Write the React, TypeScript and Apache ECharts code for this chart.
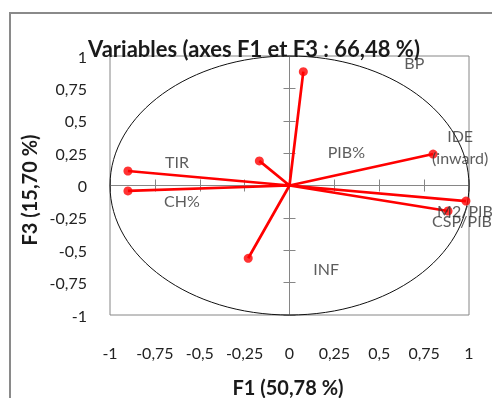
import React, { useEffect, useRef } from "react";
import * as echarts from "echarts";

const variableNames = ["BP", "IDE\n(inward)", "M2/PIB", "CSP/PIB", "TIR", "CH%", "PIB%", "INF"];
const f1Values = [0.077, 0.8, 0.983, 0.883, -0.9, -0.9, -0.168, -0.23];
const f3Values = [0.879, 0.243, -0.12, -0.197, 0.112, -0.042, 0.19, -0.562];
const labelOffsets: number[][] = [
  [111, -9],
  [27, -8],
  [-1, 9],
  [14, 9],
  [49, -9],
  [54, 10],
  [87, -9],
  [78, 10],
];
const tickStep = 0.25;
const titleText = "Variables (axes F1 et F3 : 66,48 %)";
const xAxisTitle = "F1 (50,78 %)";
const yAxisTitle = "F3 (15,70 %)";

const FONT = "Lato";
const fmt = (v: number) => String(v).replace(".", ",");

export default function App() {
  const ref = useRef<HTMLDivElement>(null);
  useEffect(() => {
    if (!ref.current) return;
    const chart = echarts.init(ref.current, null, { renderer: "svg" });

    const lineData: number[][] = [];
    f1Values.forEach((x, i) => {
      lineData.push([0, 0]);
      lineData.push([x, f3Values[i]]);
    });
    const pointData = f1Values.map((x, i) => ({
      name: variableNames[i],
      value: [x, f3Values[i]],
      label: { offset: labelOffsets[i] },
    }));

    const axisGray = "#868686";
    const baseAxis = {
      type: "value" as const,
      min: -1,
      max: 1,
      interval: tickStep,
      splitLine: { show: false },
    };

    chart.setOption({
      animation: false,
      textStyle: { fontFamily: FONT },
      grid: {
        left: 110,
        right: 23,
        top: 56,
        bottom: 83,
        show: true,
        borderColor: axisGray,
        borderWidth: 1,
      },
      xAxis: [
        {
          ...baseAxis,
          position: "bottom",
          axisLine: { show: false, onZero: false },
          axisTick: { show: false },
          axisLabel: { margin: 29, fontSize: 16, color: "#222", fontFamily: FONT, formatter: fmt },
        },
        {
          ...baseAxis,
          position: "bottom",
          axisLine: { show: true, onZero: true, lineStyle: { color: axisGray, width: 1 } },
          axisTick: { show: true, length: 6, lineStyle: { color: axisGray } },
          axisLabel: { show: false },
        },
        {
          ...baseAxis,
          position: "bottom",
          axisLine: { show: false, onZero: true },
          axisTick: { show: true, inside: true, length: 6, lineStyle: { color: axisGray } },
          axisLabel: { show: false },
        },
      ],
      yAxis: [
        {
          ...baseAxis,
          position: "left",
          axisLine: { show: false, onZero: false },
          axisTick: { show: false },
          axisLabel: { margin: 23, fontSize: 16, color: "#222", fontFamily: FONT, formatter: fmt },
        },
        {
          ...baseAxis,
          position: "left",
          axisLine: { show: true, onZero: true, lineStyle: { color: axisGray, width: 1 } },
          axisTick: { show: true, length: 6, lineStyle: { color: axisGray } },
          axisLabel: { show: false },
        },
        {
          ...baseAxis,
          position: "left",
          axisLine: { show: false, onZero: true },
          axisTick: { show: true, inside: true, length: 6, lineStyle: { color: axisGray } },
          axisLabel: { show: false },
        },
      ],
      graphic: [
        {
          type: "rect",
          shape: { x: 10, y: 13, width: 500, height: 420 },
          style: { fill: "none", stroke: "#8a8a8a", lineWidth: 2 },
          silent: true,
        },
        {
          type: "text",
          x: 254,
          y: 48,
          style: {
            text: titleText,
            fontFamily: FONT,
            fontSize: 22,
            fontWeight: "bold",
            fill: "#1a1a1a",
            align: "center",
            verticalAlign: "middle",
          },
        },
        {
          type: "text",
          x: 288,
          y: 387,
          style: {
            text: xAxisTitle,
            fontFamily: FONT,
            fontSize: 20,
            fontWeight: "bold",
            fill: "#1a1a1a",
            align: "center",
            verticalAlign: "middle",
          },
        },
        {
          type: "text",
          x: 29,
          y: 190,
          rotation: Math.PI / 2,
          style: {
            text: yAxisTitle,
            fontFamily: FONT,
            fontSize: 20,
            fontWeight: "bold",
            fill: "#1a1a1a",
            align: "center",
            verticalAlign: "middle",
          },
        },
      ],
      series: [
        {
          type: "custom",
          xAxisIndex: 0,
          yAxisIndex: 0,
          silent: true,
          z: 1,
          data: [[0, 0]],
          renderItem: (params: any, api: any) => {
            const c = api.coord([0, 0]);
            const s = api.size([1, 1]);
            return {
              type: "ellipse",
              shape: { cx: c[0], cy: c[1], rx: s[0], ry: s[1] },
              style: { fill: "none", stroke: "#111", lineWidth: 1 },
            };
          },
        },
        {
          type: "line",
          data: lineData,
          symbol: "none",
          z: 3,
          lineStyle: { color: "#ff0000", width: 2.7 },
          silent: true,
        },
        {
          type: "scatter",
          data: pointData,
          symbol: "circle",
          symbolSize: 9,
          z: 4,
          itemStyle: { color: "#ff0000" },
          label: {
            show: true,
            position: "inside",
            formatter: (p: any) => p.name,
            fontFamily: FONT,
            fontSize: 16,
            color: "#333",
            lineHeight: 22,
            align: "center",
            verticalAlign: "middle",
          },
        },
      ],
    });
    return () => chart.dispose();
  }, []);
  return <div ref={ref} style={{ position: "fixed", left: 0, top: 0, width: 492, height: 398 }} />;
}
